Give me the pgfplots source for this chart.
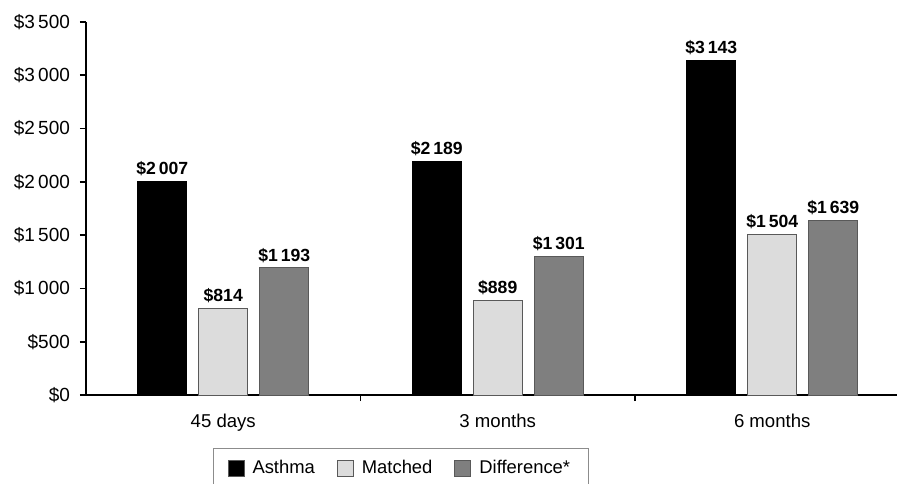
\documentclass[border=0pt]{standalone}
\usepackage{pgfplots}
\pgfplotsset{compat=1.18}
\usepackage{fontspec}
\setmainfont{Liberation Sans}
\definecolor{lightbar}{HTML}{DCDCDC}
\definecolor{darkbar}{HTML}{7F7F7F}
\begin{document}
\begin{tikzpicture}
\begin{axis}[
  name=ax,
  at={(0,0)}, anchor=south west,
  scale only axis,
  width=405.5pt, height=186.5pt,
  xmin=-0.5, xmax=2.4545,
  ymin=0, ymax=3500,
  clip=false,
  ybar=6pt, bar width=24.5pt,
  axis x line*=bottom, axis y line*=left,
  axis line style={-, line width=0.8pt},
  tick align=outside,
  major tick length=3pt,
  tick style={line width=0.8pt, black},
  ytick={0,500,1000,1500,2000,2500,3000,3500},
  yticklabels={\$0,\$500,\$1\,000,\$1\,500,\$2\,000,\$2\,500,\$3\,000,\$3\,500},
  yticklabel style={font=\fontsize{9.5}{11}\selectfont, xshift=-1.5pt},
  xtick={0.5,1.5},
  xticklabels={},
  extra x ticks={0,1,2},
  extra x tick labels={45 days,3 months,6 months},
  extra x tick style={major tick length=0pt, xticklabel style={font=\fontsize{9.3}{11}\selectfont, yshift=-6pt}},
  nodes near coords,
  point meta=explicit symbolic,
  every node near coord/.append style={font=\bfseries\fontsize{8.8}{10}\selectfont, anchor=south, inner sep=2.5pt},
  legend columns=3,
  legend style={at={(rel axis cs:0.1566,-0.142)}, anchor=north west, draw=black!45, line width=0.5pt,
    font=\fontsize{9.2}{11}\selectfont, inner xsep=7pt, inner ysep=4pt,
    /tikz/every odd column/.append style={column sep=2pt},
    /tikz/every even column/.append style={column sep=9pt}},
  legend image code/.code={\draw[#1, draw=black!65, line width=0.5pt] (0pt,-4pt) rectangle (8pt,4pt);},
]
\addplot[fill=black, draw=black, line width=0.5pt] coordinates {(0,2007) [\$2\,007] (1,2189) [\$2\,189] (2,3143) [\$3\,143]};
\addplot[fill=lightbar, draw=black!65, line width=0.5pt] coordinates {(0,814) [\$814] (1,889) [\$889] (2,1504) [\$1\,504]};
\addplot[fill=darkbar, draw=black!65, line width=0.5pt] coordinates {(0,1193) [\$1\,193] (1,1301) [\$1\,301] (2,1639) [\$1\,639]};
\legend{Asthma, Matched, Difference*}
\end{axis}
\pgfresetboundingbox
\useasboundingbox (-43pt,-44pt) rectangle (405.5pt,197.5pt);
\end{tikzpicture}
\end{document}
